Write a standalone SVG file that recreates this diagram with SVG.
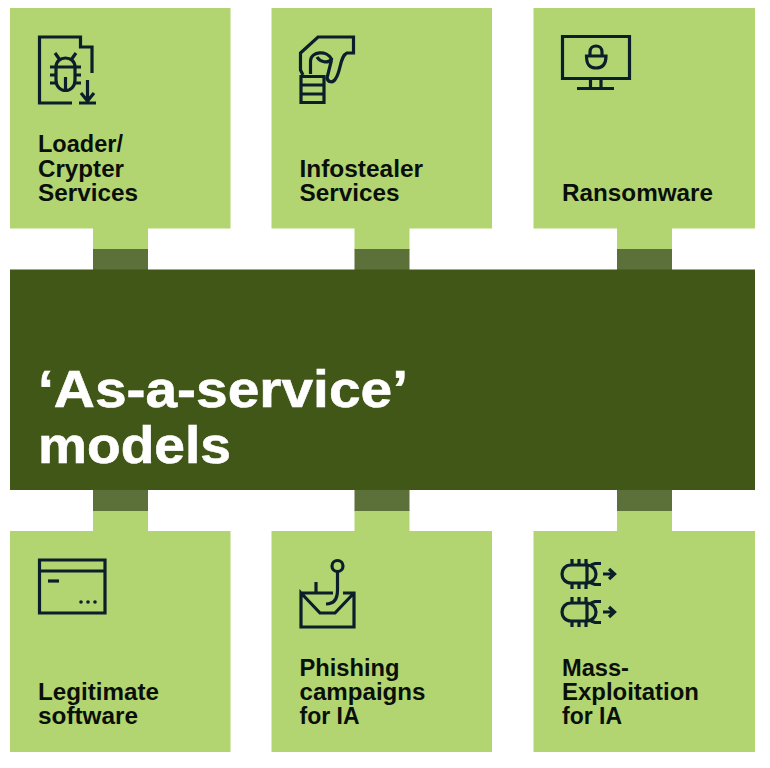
<svg xmlns="http://www.w3.org/2000/svg" width="770" height="768" viewBox="0 0 770 768">
<style>
.card{fill:#b2d571}
.dark{fill:#5c7039}
.center{fill:#415718}
.lbl{font-family:"Liberation Sans",Arial,sans-serif;font-weight:700;font-size:23.500px;fill:#0a0f0a}
.title{font-family:"Liberation Sans",Arial,sans-serif;font-weight:700;font-size:52px;fill:#fff;stroke:#fff;stroke-width:0.600px}
.ic{fill:none;stroke:#0b1f2b;stroke-width:3.200;stroke-linejoin:miter}
.icf{fill:#0b1f2b}
</style>
<rect width="770" height="768" fill="#fff"/>
<g id="connectors">
<rect class="card" x="93" y="228" width="55" height="22"/><rect class="dark" x="93" y="249" width="55" height="21"/>
<rect class="card" x="354.500" y="228" width="55" height="22"/><rect class="dark" x="354.500" y="249" width="55" height="21"/>
<rect class="card" x="617" y="228" width="55" height="22"/><rect class="dark" x="617" y="249" width="55" height="21"/>
<rect class="card" x="93" y="510" width="55" height="22"/><rect class="dark" x="93" y="490" width="55" height="21"/>
<rect class="card" x="354.500" y="510" width="55" height="22"/><rect class="dark" x="354.500" y="490" width="55" height="21"/>
<rect class="card" x="617" y="510" width="55" height="22"/><rect class="dark" x="617" y="490" width="55" height="21"/>
</g>
<g id="center">
<rect class="center" x="10" y="269.500" width="745" height="220.500"/>
<text class="title" x="38" y="407" textLength="370" lengthAdjust="spacingAndGlyphs">‘As-a-service’</text>
<text class="title" x="38" y="463" textLength="193" lengthAdjust="spacingAndGlyphs">models</text>
</g>
<g id="loader">
<rect class="card" x="10" y="8" width="220.500" height="220.500"/>
<path class="ic" d="M72 103H39.500V37H80.500V47H92V73"/>
<path class="ic" d="M79 103H96M87.500 80V101M81 93L87.500 101L94 93"/>
<path class="ic" d="M56 67V80C56 94 75 94 75 80V67C75 55 56 55 56 67Z"/>
<path class="ic" d="M55 53L60 60M76 53L71 60M50 67H81M50 75H56M75 75H81M50 83H56M75 83H81M65.500 77V89"/>
<text class="lbl" x="38" y="152" textLength="85" lengthAdjust="spacingAndGlyphs">Loader/</text><text class="lbl" x="38" y="176.500" textLength="86" lengthAdjust="spacingAndGlyphs">Crypter</text><text class="lbl" x="38" y="201" textLength="100" lengthAdjust="spacingAndGlyphs">Services</text>
</g>
<g id="infostealer">
<rect class="card" x="271.500" y="8" width="220.500" height="220.500"/>
<path class="ic" d="M303 75L300.500 70V53L318 37H353.500V53H347C340 56 341 70 336 78C333 84 328 82 327 78L331.500 60"/>
<path class="ic" d="M310.500 74V61C311 51 327 50 331.500 59C328 64 320 62 317 57"/>
<path class="ic" d="M301 76.500H324V102.500H301ZM301 85H324M301 94H324"/>
<text class="lbl" x="299.500" y="176.500" textLength="123.500" lengthAdjust="spacingAndGlyphs">Infostealer</text><text class="lbl" x="299.500" y="201" textLength="100" lengthAdjust="spacingAndGlyphs">Services</text>
</g>
<g id="ransomware">
<rect class="card" x="533.500" y="8" width="221.500" height="220.500"/>
<path class="ic" d="M562.500 36.500H629.500V78.500H562.500ZM590.500 78.500V89M601 78.500V89M577 88.500H614"/>
<path class="ic" d="M586.500 56H606C606 64 603 68 596 68C589 68 586.500 64 586.500 56ZM590 56V52C590 44 602 44 602 52V56"/>
<text class="lbl" x="562" y="201" textLength="151" lengthAdjust="spacingAndGlyphs">Ransomware</text>
</g>
<g id="legit">
<rect class="card" x="10" y="531" width="220.500" height="221"/>
<path class="ic" d="M39.500 560H105V613H39.500ZM39.500 571H105"/>
<path class="ic" d="M48 581H59"/>
<circle class="icf" cx="81" cy="602" r="1.800"/><circle class="icf" cx="88" cy="602" r="1.800"/><circle class="icf" cx="95" cy="602" r="1.800"/>
<text class="lbl" x="38" y="700" textLength="121" lengthAdjust="spacingAndGlyphs">Legitimate</text><text class="lbl" x="38" y="724" textLength="100" lengthAdjust="spacingAndGlyphs">software</text>
</g>
<g id="phishing">
<rect class="card" x="271.500" y="531" width="220.500" height="221"/>
<path class="ic" d="M301 593H333M343 593H354V627H301V593L320 613H335L354 593"/>
<circle class="ic" cx="337.500" cy="566" r="5.500"/>
<path class="ic" d="M337.500 571.500V590C337.500 600 333 604 326 604"/>
<path class="ic" d="M316 582V592"/>
<text class="lbl" x="299.500" y="676" textLength="100" lengthAdjust="spacingAndGlyphs">Phishing</text><text class="lbl" x="299.500" y="700" textLength="126" lengthAdjust="spacingAndGlyphs">campaigns</text><text class="lbl" x="299.500" y="724" textLength="60" lengthAdjust="spacingAndGlyphs">for IA</text>
</g>
<g id="mass">
<rect class="card" x="533.500" y="531" width="221.500" height="221"/>
<g id="bug1">
<path class="ic" d="M571 565H587V583H571C559 583 559 565 571 565ZM587 565C599 566 599 582 587 583M591 565L595 563.500H601M591 583L595 584.500H601M572 559V565M579 559V565M586 559V565M572 583V589M579 583V589M586 583V589"/>
<path class="ic" d="M603 574H614M609 569L614.500 574L609 579"/>
</g>
<g id="bug2">
<path class="ic" d="M571 603H587V621H571C559 621 559 603 571 603ZM587 603C599 604 599 620 587 621M591 603L595 601.500H601M591 621L595 622.500H601M572 597V603M579 597V603M586 597V603M572 621V627M579 621V627M586 621V627"/>
<path class="ic" d="M603 612H614M609 607L614.500 612L609 617"/>
</g>
<text class="lbl" x="562" y="676" textLength="67" lengthAdjust="spacingAndGlyphs">Mass-</text><text class="lbl" x="562" y="700" textLength="137" lengthAdjust="spacingAndGlyphs">Exploitation</text><text class="lbl" x="562" y="724" textLength="60" lengthAdjust="spacingAndGlyphs">for IA</text>
</g>
</svg>
